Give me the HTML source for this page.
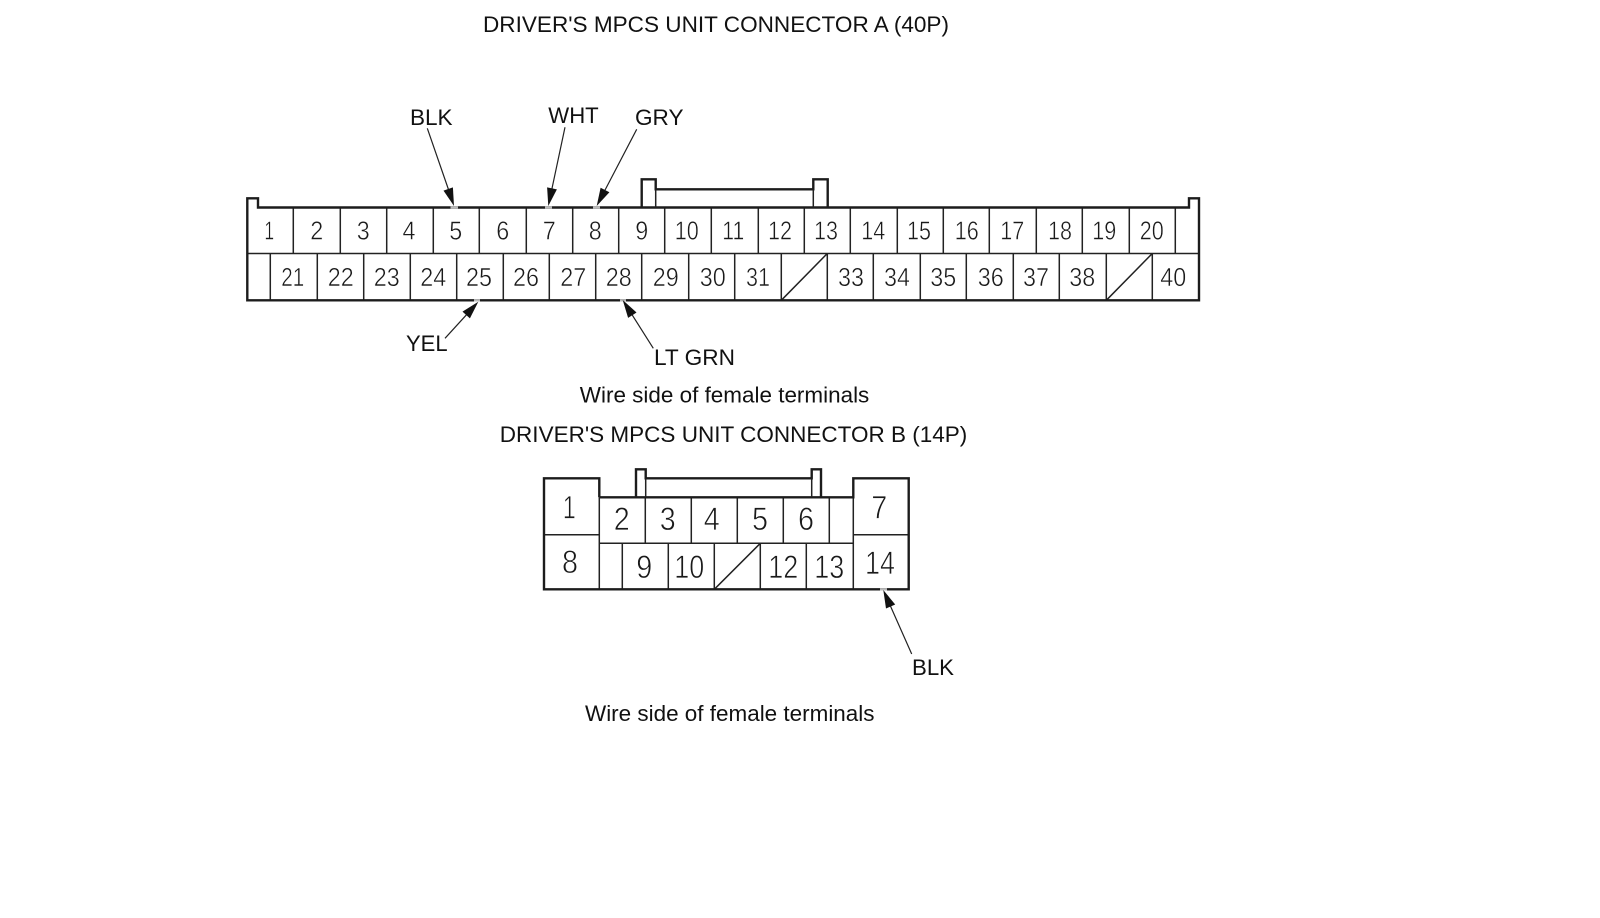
<!DOCTYPE html>
<html>
<head>
<meta charset="utf-8">
<style>
html,body{margin:0;padding:0;background:#fff;width:1600px;height:918px;overflow:hidden}
svg{display:block}
text{font-family:"Liberation Sans",sans-serif;fill:#111}
.l{font-size:22px}
.n{font-size:26px;text-anchor:middle;fill:#1a1a1a;stroke:#fff;stroke-width:.5px}
.m{font-size:32px;text-anchor:middle;fill:#1a1a1a;stroke:#fff;stroke-width:.7px}
.o{fill:none;stroke:#1c1c1c;stroke-width:2.4}
.i{fill:none;stroke:#222;stroke-width:1.5}
.a{fill:none;stroke:#222;stroke-width:1.2}
.h{fill:#111}
.g{stroke:#bbb;stroke-width:2.4}
</style>
</head>
<body>
<svg width="1600" height="918" viewBox="0 0 1600 918" xmlns="http://www.w3.org/2000/svg">
<rect width="1600" height="918" fill="#fff"/>

<!-- Titles and captions -->
<text class="l" x="483" y="32" textLength="466" lengthAdjust="spacingAndGlyphs">DRIVER'S MPCS UNIT CONNECTOR A (40P)</text>
<text class="l" x="579.8" y="402.3" textLength="289.5" lengthAdjust="spacingAndGlyphs">Wire side of female terminals</text>
<text class="l" x="499.8" y="442" textLength="467.5" lengthAdjust="spacingAndGlyphs">DRIVER'S MPCS UNIT CONNECTOR B (14P)</text>
<text class="l" x="585" y="721" textLength="289.5" lengthAdjust="spacingAndGlyphs">Wire side of female terminals</text>

<!-- Wire labels -->
<text class="l" x="410" y="125" textLength="42.6" lengthAdjust="spacingAndGlyphs">BLK</text>
<text class="l" x="548.3" y="123" textLength="50.4" lengthAdjust="spacingAndGlyphs">WHT</text>
<text class="l" x="635" y="125" textLength="48.5" lengthAdjust="spacingAndGlyphs">GRY</text>
<text class="l" x="406" y="351" textLength="41.6" lengthAdjust="spacingAndGlyphs">YEL</text>
<text class="l" x="654" y="365" textLength="81" lengthAdjust="spacingAndGlyphs">LT GRN</text>
<text class="l" x="912" y="675" textLength="42" lengthAdjust="spacingAndGlyphs">BLK</text>

<!-- Connector A body -->
<path class="i" d="M293.3 207.5V253.5M340.3 207.5V253.5M386.7 207.5V253.5M433.3 207.5V253.5M479.3 207.5V253.5M526.3 207.5V253.5M572.7 207.5V253.5M618.7 207.5V253.5M664.7 207.5V253.5M711.3 207.5V253.5M758.3 207.5V253.5M804.3 207.5V253.5M850.3 207.5V253.5M897.3 207.5V253.5M943.3 207.5V253.5M989.3 207.5V253.5M1036.3 207.5V253.5M1082.3 207.5V253.5M1129.3 207.5V253.5M1175.3 207.5V253.5"/>
<path class="i" d="M270.3 253.5V300.3M317.3 253.5V300.3M363.7 253.5V300.3M410.3 253.5V300.3M456.7 253.5V300.3M503.3 253.5V300.3M549.3 253.5V300.3M595.7 253.5V300.3M641.7 253.5V300.3M688.7 253.5V300.3M734.7 253.5V300.3M781.3 253.5V300.3M827.3 253.5V300.3M873.3 253.5V300.3M920.3 253.5V300.3M966.3 253.5V300.3M1013.3 253.5V300.3M1059.3 253.5V300.3M1106.3 253.5V300.3M1152.3 253.5V300.3"/>
<path class="i" d="M247.3 253.5H1199M781.3 300.3L827.3 253.5M1106.3 300.3L1152.3 253.5"/>
<path class="o" d="M258 207.5V198.3H247.3V300.3H1199V198.3H1189V207.5Z"/>
<path class="o" d="M641.7 207.5V179.3H655.7V189.3H813.3V179.3H827.7V207.5"/>
<path class="i" d="M655.7 189.3V207.5M813.3 189.3V207.5"/>

<!-- Connector A numbers -->
<g class="top">
<text class="n" x="269.3" y="239.5" textLength="10" lengthAdjust="spacingAndGlyphs">1</text>
<text class="n" x="316.7" y="239.5" textLength="13" lengthAdjust="spacingAndGlyphs">2</text>
<text class="n" x="363.3" y="239.5" textLength="13" lengthAdjust="spacingAndGlyphs">3</text>
<text class="n" x="409" y="239.5" textLength="13" lengthAdjust="spacingAndGlyphs">4</text>
<text class="n" x="455.7" y="239.5" textLength="13" lengthAdjust="spacingAndGlyphs">5</text>
<text class="n" x="502.7" y="239.5" textLength="13" lengthAdjust="spacingAndGlyphs">6</text>
<text class="n" x="549.3" y="239.5" textLength="13" lengthAdjust="spacingAndGlyphs">7</text>
<text class="n" x="595.3" y="239.5" textLength="13" lengthAdjust="spacingAndGlyphs">8</text>
<text class="n" x="641.7" y="239.5" textLength="13" lengthAdjust="spacingAndGlyphs">9</text>
<text class="n" x="686.7" y="239.5" textLength="24" lengthAdjust="spacingAndGlyphs">10</text>
<text class="n" x="733.3" y="239.5" textLength="22" lengthAdjust="spacingAndGlyphs">11</text>
<text class="n" x="780" y="239.5" textLength="24" lengthAdjust="spacingAndGlyphs">12</text>
<text class="n" x="826" y="239.5" textLength="24" lengthAdjust="spacingAndGlyphs">13</text>
<text class="n" x="873.3" y="239.5" textLength="24" lengthAdjust="spacingAndGlyphs">14</text>
<text class="n" x="919" y="239.5" textLength="24" lengthAdjust="spacingAndGlyphs">15</text>
<text class="n" x="966.7" y="239.5" textLength="24" lengthAdjust="spacingAndGlyphs">16</text>
<text class="n" x="1012.3" y="239.5" textLength="24" lengthAdjust="spacingAndGlyphs">17</text>
<text class="n" x="1060" y="239.5" textLength="24" lengthAdjust="spacingAndGlyphs">18</text>
<text class="n" x="1104.3" y="239.5" textLength="24" lengthAdjust="spacingAndGlyphs">19</text>
<text class="n" x="1151.7" y="239.5" textLength="24" lengthAdjust="spacingAndGlyphs">20</text>
</g>
<g class="bot">
<text class="n" x="292.7" y="286" textLength="23" lengthAdjust="spacingAndGlyphs">21</text>
<text class="n" x="340.7" y="286" textLength="26" lengthAdjust="spacingAndGlyphs">22</text>
<text class="n" x="386.7" y="286" textLength="26" lengthAdjust="spacingAndGlyphs">23</text>
<text class="n" x="433.3" y="286" textLength="26" lengthAdjust="spacingAndGlyphs">24</text>
<text class="n" x="479" y="286" textLength="26" lengthAdjust="spacingAndGlyphs">25</text>
<text class="n" x="526" y="286" textLength="26" lengthAdjust="spacingAndGlyphs">26</text>
<text class="n" x="573.3" y="286" textLength="26" lengthAdjust="spacingAndGlyphs">27</text>
<text class="n" x="618.7" y="286" textLength="26" lengthAdjust="spacingAndGlyphs">28</text>
<text class="n" x="665.7" y="286" textLength="26" lengthAdjust="spacingAndGlyphs">29</text>
<text class="n" x="712.7" y="286" textLength="26" lengthAdjust="spacingAndGlyphs">30</text>
<text class="n" x="758" y="286" textLength="24" lengthAdjust="spacingAndGlyphs">31</text>
<text class="n" x="851" y="286" textLength="26" lengthAdjust="spacingAndGlyphs">33</text>
<text class="n" x="897" y="286" textLength="26" lengthAdjust="spacingAndGlyphs">34</text>
<text class="n" x="943.3" y="286" textLength="26" lengthAdjust="spacingAndGlyphs">35</text>
<text class="n" x="990.7" y="286" textLength="26" lengthAdjust="spacingAndGlyphs">36</text>
<text class="n" x="1036" y="286" textLength="26" lengthAdjust="spacingAndGlyphs">37</text>
<text class="n" x="1082.3" y="286" textLength="26" lengthAdjust="spacingAndGlyphs">38</text>
<text class="n" x="1173.3" y="286" textLength="26" lengthAdjust="spacingAndGlyphs">40</text>
</g>

<!-- Connector B body -->
<path class="i" d="M645.3 497.3V543.3M691.3 497.3V543.3M737.3 497.3V543.3M783.3 497.3V543.3M829.3 497.3V543.3"/>
<path class="i" d="M622.3 543.3V589.3M668.3 543.3V589.3M714.3 543.3V589.3M760.3 543.3V589.3M806.3 543.3V589.3"/>
<path class="i" d="M599.3 543.3H853.3M544 534.7H599.3M853.3 534.7H908.7M714.3 589.3L760.3 543.3M599.3 497.3V589.3M853.3 497.3V589.3"/>
<path class="o" d="M599.3 497.3V478.3H544V589.3H908.7V478.3H853.3V497.3H599.3"/>
<path class="o" d="M636 497.3V469.3H645.7V478.3H811.7V469.3H821V497.3"/>
<path class="i" d="M645.7 478.3V497.3M811.7 478.3V497.3"/>

<!-- Connector B numbers -->
<text class="m" x="569.3" y="518.5" textLength="13" lengthAdjust="spacingAndGlyphs">1</text>
<text class="m" x="570" y="572.9" textLength="16" lengthAdjust="spacingAndGlyphs">8</text>
<text class="m" x="621.7" y="530.2" textLength="16" lengthAdjust="spacingAndGlyphs">2</text>
<text class="m" x="667.7" y="530.2" textLength="16" lengthAdjust="spacingAndGlyphs">3</text>
<text class="m" x="711.7" y="530.2" textLength="16" lengthAdjust="spacingAndGlyphs">4</text>
<text class="m" x="760" y="530.2" textLength="16" lengthAdjust="spacingAndGlyphs">5</text>
<text class="m" x="806" y="530.2" textLength="16" lengthAdjust="spacingAndGlyphs">6</text>
<text class="m" x="879.3" y="518.5" textLength="16" lengthAdjust="spacingAndGlyphs">7</text>
<text class="m" x="644.3" y="577.9" textLength="16" lengthAdjust="spacingAndGlyphs">9</text>
<text class="m" x="689.3" y="577.9" textLength="30" lengthAdjust="spacingAndGlyphs">10</text>
<text class="m" x="783.3" y="577.9" textLength="30" lengthAdjust="spacingAndGlyphs">12</text>
<text class="m" x="829.3" y="577.9" textLength="30" lengthAdjust="spacingAndGlyphs">13</text>
<text class="m" x="880" y="574.2" textLength="30" lengthAdjust="spacingAndGlyphs">14</text>

<!-- Gaps at arrow tips -->
<path class="g" d="M450.5 207.5H458M545 207.5H552M593 207.5H600M474 300.3H480M620 300.3H626M880 589.3H887"/>

<!-- Arrows -->
<path class="a" d="M427.3 128.3L449 191M565 127.3L551.8 189.4M636.7 129.3L604.6 190.9M445 338.3L466.9 314.3M653.3 348.3L631.8 314.3M911.7 654L890.2 605.5"/>
<polygon class="h" points="454,206 452.9,187.4 443.5,190.6"/>
<polygon class="h" points="548.3,206 556.9,189.4 547.1,187.4"/>
<polygon class="h" points="596.7,206 609.4,192.3 600.6,187.7"/>
<polygon class="h" points="478.3,301.7 469.9,318.4 462.5,311.6"/>
<polygon class="h" points="622.7,300 636.5,312.5 628.1,317.9"/>
<polygon class="h" points="883.3,590 895.2,604.5 886,608.5"/>
</svg>
</body>
</html>
